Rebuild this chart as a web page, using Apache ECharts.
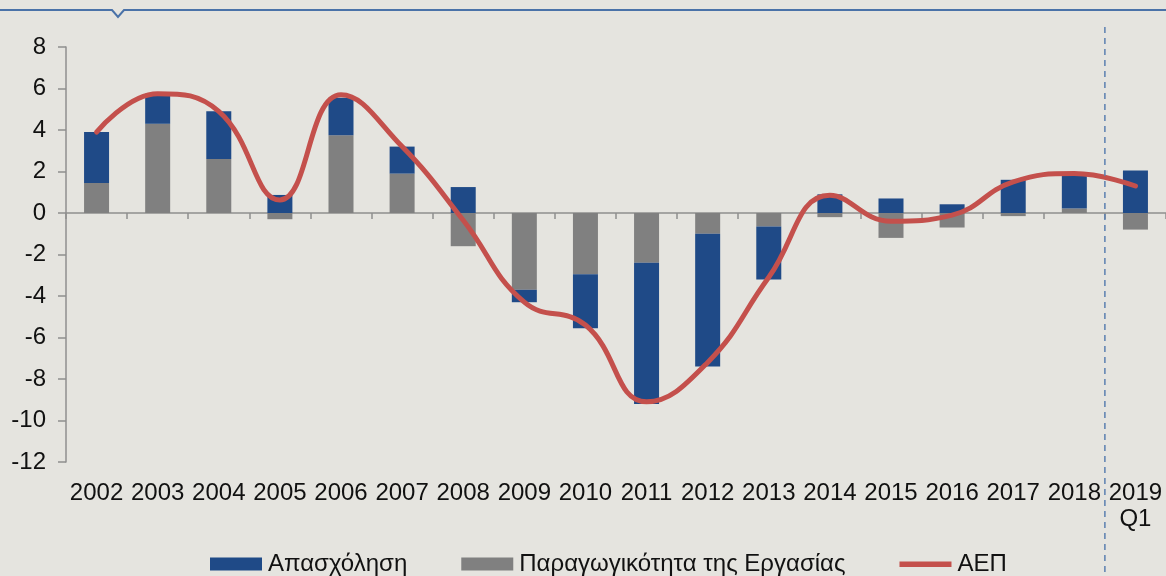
<!DOCTYPE html>
<html>
<head>
<meta charset="utf-8">
<script src="https://cdn.jsdelivr.net/npm/echarts@6/dist/echarts.min.js"></script>
<style>
  html, body { margin: 0; padding: 0; background: #e5e4df; }
  #chart { width: 1166px; height: 576px; }
</style>
</head>
<body>
<div id="chart"></div>
<script>
// categories
var years = ['2002', '2003', '2004', '2005', '2006', '2007', '2008', '2009', '2010',
  '2011', '2012', '2013', '2014', '2015', '2016', '2017', '2018', '2019\nQ1']
// contribution of labour productivity (grey) and employment (blue), GDP growth (red line)
var productivity = [1.45, 4.3, 2.6, -0.3, 3.75, 1.9, -1.6, -3.7, -2.95, -2.4, -1.0, -0.65, -0.2, -1.2, -0.7, -0.15, 0.22, -0.8]
var employment = [2.45, 1.45, 2.3, 0.87, 1.8, 1.3, 1.25, -0.6, -2.6, -6.8, -6.4, -2.55, 0.9, 0.7, 0.42, 1.6, 1.7, 2.05]
var gdp = [3.9, 5.75, 4.9, 0.63, 5.7, 3.2, -0.35, -4.3, -5.4, -9.1, -7.2, -3.1, 0.85, -0.4, -0.1, 1.5, 1.9, 1.3]

var names = ['Απασχόληση', 'Παραγωγικότητα της Εργασίας', 'ΑΕΠ']
var font = "'Liberation Sans', Arial, sans-serif"

var chart = echarts.init(document.getElementById('chart'), null, { renderer: 'canvas' })

chart.setOption({
  backgroundColor: '#e5e4df',
  animation: false,
  textStyle: { fontFamily: font },
  grid: { left: 66, top: 47, bottom: 114, width: 1103 },
  legend: {
    left: 210,
    top: 552,
    padding: 0,
    itemWidth: 52,
    itemHeight: 13,
    itemGap: 54,
    textStyle: { fontSize: 24, color: '#111', fontFamily: font, padding: [0, 0, 0, 1] },
    data: [
      { name: names[0], icon: 'rect' },
      { name: names[1], icon: 'rect' },
      // thick line icon, padded so it keeps the full item box
      { name: names[2], icon: 'path://M0,0M0,4L52,4L52,9.5L0,9.5ZM52,13' }
    ]
  },
  xAxis: [
    {
      // labels only, kept at the bottom
      type: 'category',
      data: years,
      position: 'bottom',
      axisLine: { show: false, onZero: false },
      axisTick: { show: false },
      axisLabel: {
        interval: 0,
        hideOverlap: false,
        fontSize: 24,
        color: '#111',
        margin: 18,
        lineHeight: 26,
        fontFamily: font
      }
    },
    {
      // axis line and ticks crossing at zero
      type: 'category',
      data: years,
      position: 'bottom',
      axisLine: { show: true, onZero: true, lineStyle: { color: '#8f8f8f', width: 1.5 } },
      axisTick: { show: true, interval: 0, length: 6, lineStyle: { color: '#8f8f8f', width: 1.5 } },
      axisLabel: { show: false }
    }
  ],
  yAxis: {
    type: 'value',
    min: -12,
    max: 8,
    interval: 2,
    splitLine: { show: false },
    axisLine: { show: true, lineStyle: { color: '#8f8f8f', width: 1.5 } },
    axisTick: { show: true, length: 8, lineStyle: { color: '#8f8f8f', width: 1.5 } },
    axisLabel: { fontSize: 24, color: '#111', margin: 20, fontFamily: font }
  },
  series: [
    {
      name: names[1],
      type: 'bar',
      stack: 'total',
      barWidth: 25,
      itemStyle: { color: '#808080' },
      data: productivity
    },
    {
      name: names[0],
      type: 'bar',
      stack: 'total',
      barWidth: 25,
      itemStyle: { color: '#1f4a87' },
      data: employment
    },
    {
      name: names[2],
      type: 'line',
      smooth: 0.45,
      symbol: 'none',
      z: 5,
      lineStyle: { color: '#c4504c', width: 5, cap: 'round' },
      itemStyle: { color: '#c4504c' },
      data: gdp
    }
  ]
})

// dashed separator between 2018 and 2019 Q1, plus the frame line at the top
var p1 = chart.convertToPixel({ xAxisIndex: 0 }, years[16])
var p2 = chart.convertToPixel({ xAxisIndex: 0 }, years[17])
var sepX = (p1 + p2) / 2

chart.setOption({
  graphic: [
    {
      type: 'line',
      shape: { x1: sepX, y1: 27, x2: sepX, y2: 576 },
      style: { stroke: '#5b7fb0', lineWidth: 1.5, lineDash: [6, 5] },
      z: 10
    },
    {
      type: 'polyline',
      shape: { points: [[0, 10], [112, 10], [118, 17], [124, 10], [1166, 10]] },
      style: { stroke: '#4a72a8', lineWidth: 2, fill: null },
      z: 10
    }
  ]
})
</script>
</body>
</html>
